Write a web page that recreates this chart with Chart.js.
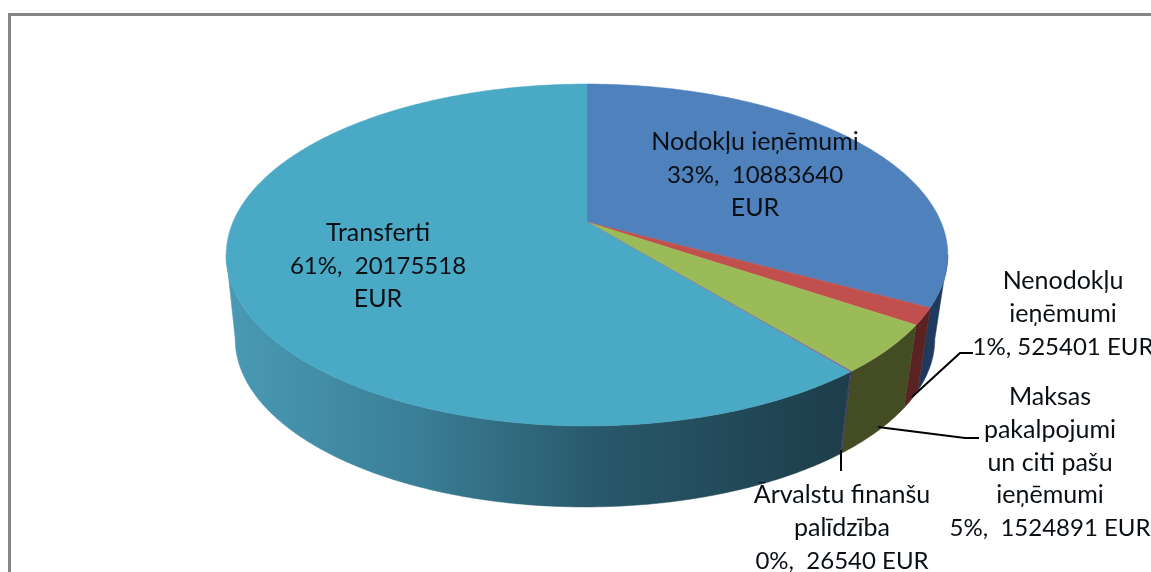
<!DOCTYPE html>
<html>
<head>
<meta charset="utf-8">
<script src="https://cdn.jsdelivr.net/npm/chart.js@4"></script>
<style>
  html,body { margin:0; padding:0; background:#fff; overflow:hidden; }
  #frame { position:absolute; left:8px; top:13px; right:0; bottom:0; border-left:3px solid #858585; border-top:3px solid #858585; }
  #wrap { position:absolute; left:0; top:0; width:1151px; height:572px; }
</style>
</head>
<body>
<div id="frame"></div>
<div id="wrap"><canvas id="chart" width="1151" height="572"></canvas></div>
<script>
const categories = ['Nodokļu ieņēmumi', 'Nenodokļu ieņēmumi', 'Maksas pakalpojumi un citi pašu ieņēmumi', 'Ārvalstu finanšu palīdzība', 'Transferti'];
const values = [10883640, 525401, 1524891, 26540, 20175518];
const topColors = ['#4f81bd', '#c0504d', '#9bbb59', '#8064a2', '#4aa9c5'];
const wallColors = ['#1f3a5c', '#5a2322', '#434c22', '#45365c', null];

const labelLines = [
  ['Nodokļu ieņēmumi', '33%,  10883640', 'EUR'],
  ['Nenodokļu', 'ieņēmumi', '1%, 525401 EUR'],
  ['Maksas', 'pakalpojumi', 'un citi pašu', 'ieņēmumi', '5%,  1524891 EUR'],
  ['Ārvalstu finanšu', 'palīdzība', '0%,  26540 EUR'],
  ['Transferti', '61%,  20175518', 'EUR']
];
const labelCenterX = [755, 1063, 1050, 842, 378];
const labelFirstBaseline = [150, 289, 405, 503, 241];
const lineGap = 32.8;
const leaders = [
  null,
  [[912,397],[960,353],[973,353]],
  [[878,427],[965,438],[979,438]],
  [[841,450],[841,471]],
  null
];

// perspective of the tilted disc
const cx = 587, apexY = 222, a = 354, b = 164.6, k = 0.193;
const rimMidY = 255, baseCx = 585, baseMidY = 339, baseScaleX = 350 / 361, baseScaleY = 168 / 171;

function rim(t) {
  const u = Math.sin(t), v = -Math.cos(t), d = 1 - k * v;
  return [cx + a * u / d, apexY + b * v / d];
}
function base(t) {
  const p = rim(t);
  return [baseCx + (p[0] - cx) * baseScaleX, baseMidY + (p[1] - rimMidY) * baseScaleY];
}

const pie3d = {
  id: 'pie3d',
  beforeDatasetDraw(chart, args) {
    const ctx = chart.ctx;
    const arcs = chart.getDatasetMeta(args.index).data;
    const wallFrom = Math.acos(-k), wallTo = 2 * Math.PI - wallFrom;
    const step = Math.PI / 360;

    // side wall
    arcs.forEach((arc, i) => {
      const s = Math.max(arc.startAngle + Math.PI / 2, wallFrom);
      const e = Math.min(arc.endAngle + Math.PI / 2, wallTo);
      if (e <= s) return;
      ctx.beginPath();
      for (let t = s; t < e; t += step) { const p = rim(t); ctx.lineTo(p[0], p[1]); }
      let p = rim(e); ctx.lineTo(p[0], p[1]);
      p = base(e); ctx.lineTo(p[0], p[1]);
      for (let t = e; t > s; t -= step) { const q = base(t); ctx.lineTo(q[0], q[1]); }
      p = base(s); ctx.lineTo(p[0], p[1]);
      ctx.closePath();
      let fill = wallColors[i];
      if (!fill) {
        fill = ctx.createLinearGradient(228, 0, 850, 0);
        fill.addColorStop(0, '#4a9ab5');
        fill.addColorStop(0.3, '#3a7f97');
        fill.addColorStop(0.6, '#28586a');
        fill.addColorStop(1, '#1d3d4a');
      }
      ctx.fillStyle = fill;
      ctx.strokeStyle = fill;
      ctx.lineWidth = 0.5;
      ctx.fill();
      ctx.stroke();
    });

    // top face
    arcs.forEach((arc, i) => {
      const s = arc.startAngle + Math.PI / 2, e = arc.endAngle + Math.PI / 2;
      ctx.beginPath();
      ctx.moveTo(cx, apexY);
      for (let t = s; t < e; t += step) { const p = rim(t); ctx.lineTo(p[0], p[1]); }
      const p = rim(e); ctx.lineTo(p[0], p[1]);
      ctx.closePath();
      ctx.fillStyle = topColors[i];
      ctx.strokeStyle = topColors[i];
      ctx.lineWidth = 0.5;
      ctx.fill();
      ctx.stroke();
    });
    return false;
  },
  afterDatasetsDraw(chart) {
    const ctx = chart.ctx;
    ctx.save();
    ctx.strokeStyle = '#000';
    ctx.lineWidth = 2;
    leaders.forEach(pts => {
      if (!pts) return;
      ctx.beginPath();
      pts.forEach(p => ctx.lineTo(p[0], p[1]));
      ctx.stroke();
    });
    ctx.fillStyle = '#0a0f14';
    ctx.textAlign = 'center';
    ctx.textBaseline = 'alphabetic';
    labelLines.forEach((lines, i) => {
      lines.forEach((line, j) => {
        // digits run narrower than the letters in the original font
        ctx.font = /\d/.test(line) ? '24px Lato' : '25px Lato';
        ctx.fillText(line, labelCenterX[i], labelFirstBaseline[i] + j * lineGap);
      });
    });
    ctx.restore();
  }
};

new Chart(document.getElementById('chart'), {
  type: 'pie',
  data: {
    labels: categories,
    datasets: [{ data: values, backgroundColor: topColors, borderWidth: 0 }]
  },
  options: {
    responsive: false,
    animation: false,
    plugins: { legend: { display: false }, tooltip: { enabled: false } }
  },
  plugins: [pie3d]
});
</script>
</body>
</html>
